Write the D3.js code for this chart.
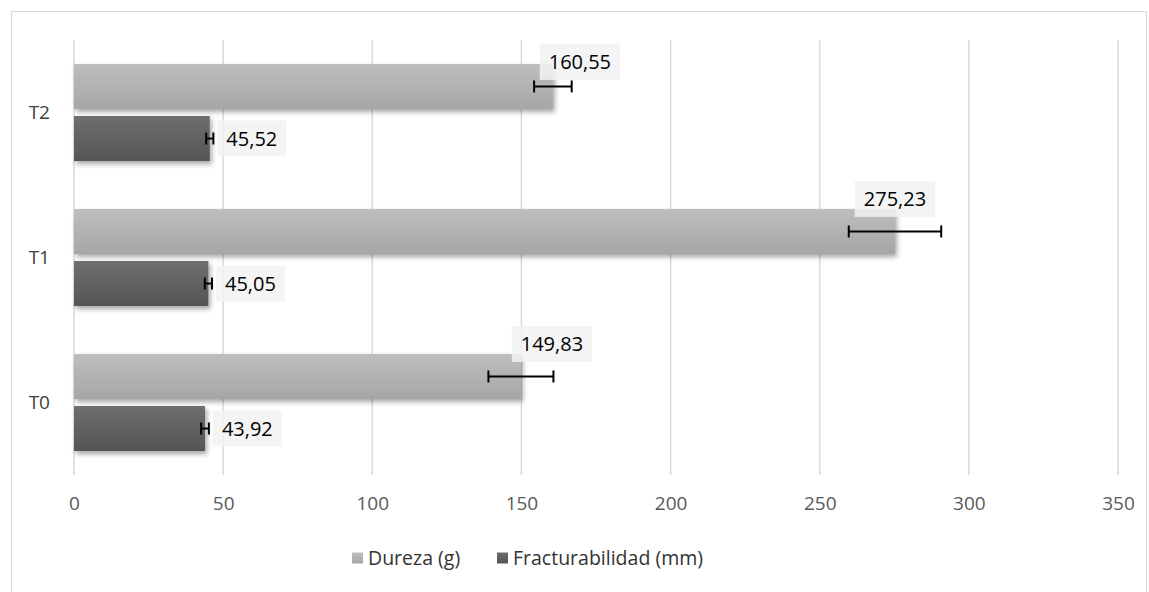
<!DOCTYPE html>
<html lang="es">
<head>
<meta charset="utf-8">
<title>Dureza y Fracturabilidad</title>
<script src="https://cdn.jsdelivr.net/npm/d3@7"></script>
<style>
  body { margin: 0; background: #fff; }
  svg { display: block; font-family: "Open Sans", "Noto Sans", sans-serif; }
</style>
</head>
<body>
<svg id="chart"></svg>
<script>
// data
var categories = ["T2", "T1", "T0"];
var seriesNames = ["Dureza (g)", "Fracturabilidad (mm)"];
var dureza = [160.55, 275.23, 149.83];
var durezaErr = [6.3, 15.5, 10.9];
var fractura = [45.52, 45.05, 43.92];
var fracturaErr = [1.2, 1.2, 1.3];
var xTicks = [0, 50, 100, 150, 200, 250, 300, 350];

// label nudges (pixels) for the Dureza labels, they were dragged by hand
var durezaLabelShift = [[27, -2], [0, -10], [31, -10]];

var width = 1149, height = 592;
var margin = { left: 74, right: 31, top: 40, bottom: 117 };

var svg = d3.select("#chart").attr("width", width).attr("height", height);

var defs = svg.append("defs");

function grad(id, c1, c2) {
    var g = defs.append("linearGradient").attr("id", id)
        .attr("x1", 0).attr("y1", 0).attr("x2", 0).attr("y2", 1);
    g.append("stop").attr("offset", "0%").attr("stop-color", c1);
    g.append("stop").attr("offset", "100%").attr("stop-color", c2);
}
grad("gLight", "#bebebe", "#a6a6a6");
grad("gDark", "#6e6e6e", "#555555");

var f = defs.append("filter").attr("id", "shadow")
    .attr("x", "-5%").attr("y", "-20%").attr("width", "115%").attr("height", "150%");
f.append("feDropShadow").attr("dx", 2).attr("dy", 3).attr("stdDeviation", 2.5)
    .attr("flood-color", "#000").attr("flood-opacity", 0.35);

// chart border
svg.append("rect")
    .attr("x", 11.5).attr("y", 11.5)
    .attr("width", 1135).attr("height", 600)
    .attr("fill", "#fff").attr("stroke", "#d9d9d9").attr("stroke-width", 1);

var x = d3.scaleLinear().domain([0, 350]).range([margin.left, width - margin.right]);

var y = d3.scaleBand().domain(categories)
    .range([margin.top, height - margin.bottom])
    .paddingInner(0.33).paddingOuter(0.165);

var ySub = d3.scaleBand().domain(seriesNames)
    .range([0, y.bandwidth()]).paddingInner(0.135);

// gridlines
svg.append("g").selectAll("line")
    .data(xTicks).enter().append("line")
    .attr("x1", d => x(d)).attr("x2", d => x(d))
    .attr("y1", margin.top).attr("y2", height - margin.bottom)
    .attr("stroke", "#d9d9d9").attr("stroke-width", 1.5);

// x axis tick labels
var xAxis = d3.axisBottom(x).tickValues(xTicks).tickSize(0).tickPadding(22)
    .tickFormat(d3.format("d"));
var gx = svg.append("g")
    .attr("transform", "translate(0," + (height - margin.bottom) + ")")
    .call(xAxis);
gx.select(".domain").remove();
gx.selectAll("text").attr("fill", "#595959").style("font-size", "19px")
    .style("font-family", "'Open Sans', sans-serif");

// y axis labels
var yAxis = d3.axisLeft(y).tickSize(0).tickPadding(24);
var gy = svg.append("g").attr("transform", "translate(" + margin.left + ",0)").call(yAxis);
gy.select(".domain").remove();
gy.selectAll("text").attr("fill", "#404040").style("font-size", "19px")
    .style("font-family", "'Open Sans', sans-serif");

var rows = categories.map((c, i) => ({
    cat: c, i: i,
    vals: [
        { s: seriesNames[0], v: dureza[i], e: durezaErr[i], fill: "url(#gLight)" },
        { s: seriesNames[1], v: fractura[i], e: fracturaErr[i], fill: "url(#gDark)" }
    ]
}));

var groups = svg.append("g").selectAll("g")
    .data(rows).enter().append("g")
    .attr("transform", d => "translate(0," + y(d.cat) + ")");

groups.selectAll("rect")
    .data(d => d.vals).enter().append("rect")
    .attr("x", x(0))
    .attr("y", d => ySub(d.s))
    .attr("width", d => x(d.v) - x(0))
    .attr("height", ySub.bandwidth())
    .attr("fill", d => d.fill)
    .attr("filter", "url(#shadow)");

// error bars
var eb = groups.selectAll("g.err")
    .data(d => d.vals).enter().append("g").attr("class", "err")
    .attr("stroke", "#000").attr("stroke-width", 2);
eb.append("line")
    .attr("x1", d => x(d.v - d.e)).attr("x2", d => x(d.v + d.e))
    .attr("y1", d => ySub(d.s) + ySub.bandwidth() / 2)
    .attr("y2", d => ySub(d.s) + ySub.bandwidth() / 2);
eb.selectAll("line.cap")
    .data(d => [d.v - d.e, d.v + d.e].map(v => ({ v: v, s: d.s })))
    .enter().append("line").attr("class", "cap")
    .attr("x1", d => x(d.v)).attr("x2", d => x(d.v))
    .attr("y1", d => ySub(d.s) + ySub.bandwidth() / 2 - 6)
    .attr("y2", d => ySub(d.s) + ySub.bandwidth() / 2 + 6);

function fmt(v) { return d3.format(".2f")(v).replace(".", ","); }

function addLabel(g, cx, cy, txt, anchor) {
    var t = g.append("text")
        .attr("x", cx).attr("y", cy)
        .attr("dy", "0.35em")
        .attr("text-anchor", anchor)
        .attr("fill", "#000")
        .style("font-size", "20px")
        .text(txt);
    var b = t.node().getBBox();
    g.insert("rect", "text")
        .attr("x", b.x - 9).attr("y", cy - 18)
        .attr("width", b.width + 18).attr("height", 36)
        .attr("fill", "#f2f2f2").attr("opacity", 0.85);
}

// data labels
groups.each(function(d) {
    var g = d3.select(this);
    var sh = durezaLabelShift[d.i];
    var lg1 = g.append("g");
    addLabel(lg1, x(dureza[d.i]) + sh[0], ySub(seriesNames[0]) + sh[1], fmt(dureza[d.i]), "middle");
    var lg2 = g.append("g");
    addLabel(lg2, x(fractura[d.i] + fracturaErr[d.i]) + 13,
        ySub(seriesNames[1]) + ySub.bandwidth() / 2, fmt(fractura[d.i]), "start");
});

// legend
var legend = svg.append("g").attr("transform", "translate(0,558)");
var legendX = [352, 497];
var legendFill = ["url(#gLight)", "url(#gDark)"];
seriesNames.forEach(function(s, i) {
    legend.append("rect")
        .attr("x", legendX[i]).attr("y", -5.5)
        .attr("width", 11).attr("height", 11)
        .attr("fill", legendFill[i]);
    legend.append("text")
        .attr("x", legendX[i] + 16).attr("y", 0).attr("dy", "0.35em")
        .attr("fill", "#333").style("font-size", "19.5px")
        .text(s);
});
</script>
</body>
</html>
